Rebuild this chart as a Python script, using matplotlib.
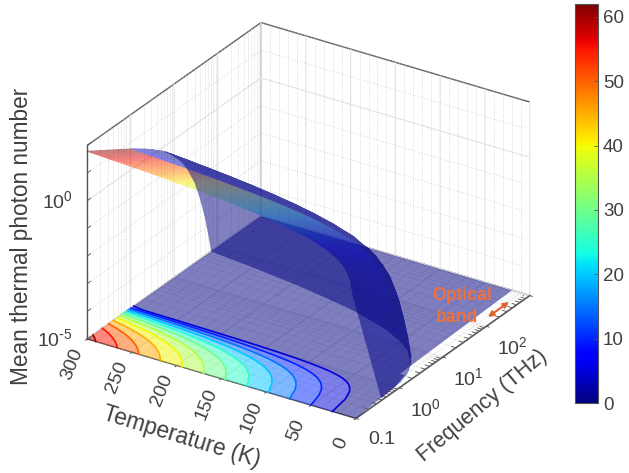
import numpy as np
import matplotlib
matplotlib.use("Agg")
import matplotlib.pyplot as plt
from matplotlib import cm
from matplotlib.colors import Normalize
from matplotlib.patches import FancyArrowPatch
from matplotlib.tri import Triangulation
from mpl_toolkits.mplot3d import proj3d
from mpl_toolkits.mplot3d.art3d import Poly3DCollection
from contourpy import contour_generator

plt.rcParams["font.family"] = ["Liberation Sans", "DejaVu Sans"]
plt.rcParams["mathtext.default"] = "regular"

# surface: log10(frequency / THz) columns, temperature (K) rows, log10(photon number) values
log_freq = [-1, -0.7, -0.35, 0.04, 0.32, 0.49, 0.61, 0.71, 0.79, 0.91, 1.0, 1.18, 1.3, 1.48, 1.6, 1.7, 1.78, 1.85, 1.9]
temperature = [3, 6, 9, 12, 18, 25, 35, 50, 75, 100, 125, 150, 175, 200, 225, 250, 275, 300]
log_photons = [
    [-0.60, -2.63, -5, -5, -5, -5, -5, -5, -5, -5, -5, -5, -5, -5, -5, -5, -5, -5, -5],
    [-0.09, -1.16, -2.42, -3.82, -5, -5, -5, -5, -5, -5, -5, -5, -5, -5, -5, -5, -5, -5, -5],
    [0.15, -0.60, -1.50, -2.55, -4.86, -5, -5, -5, -5, -5, -5, -5, -5, -5, -5, -5, -5, -5, -5],
    [0.31, -0.33, -1.08, -1.91, -3.65, -5, -5, -5, -5, -5, -5, -5, -5, -5, -5, -5, -5, -5, -5],
    [0.52, 0.01, -0.59, -1.25, -2.43, -3.59, -4.75, -5, -5, -5, -5, -5, -5, -5, -5, -5, -5, -5, -5],
    [0.67, 0.23, -0.29, -0.86, -1.74, -2.58, -3.42, -4.25, -5, -5, -5, -5, -5, -5, -5, -5, -5, -5, -5],
    [0.83, 0.43, -0.03, -0.55, -1.23, -1.84, -2.44, -3.04, -3.63, -4.82, -5, -5, -5, -5, -5, -5, -5, -5, -5],
    [1.00, 0.63, 0.20, -0.27, -0.81, -1.27, -1.70, -2.12, -2.54, -3.38, -4.21, -5, -5, -5, -5, -5, -5, -5, -5],
    [1.18, 0.84, 0.44, -0.01, -0.45, -0.80, -1.11, -1.40, -1.69, -2.25, -2.81, -4.20, -5, -5, -5, -5, -5, -5, -5],
    [1.31, 0.98, 0.59, 0.16, -0.24, -0.54, -0.79, -1.02, -1.25, -1.68, -2.10, -3.15, -4.19, -5, -5, -5, -5, -5, -5],
    [1.41, 1.08, 0.70, 0.28, -0.09, -0.36, -0.58, -0.78, -0.97, -1.33, -1.68, -2.52, -3.35, -5, -5, -5, -5, -5, -5],
    [1.49, 1.17, 0.79, 0.38, 0.02, -0.23, -0.43, -0.61, -0.78, -1.09, -1.39, -2.09, -2.79, -4.18, -5, -5, -5, -5, -5],
    [1.56, 1.24, 0.87, 0.45, 0.11, -0.13, -0.32, -0.48, -0.64, -0.92, -1.18, -1.79, -2.39, -3.58, -4.77, -5, -5, -5, -5],
    [1.61, 1.30, 0.93, 0.52, 0.18, -0.04, -0.22, -0.38, -0.52, -0.78, -1.01, -1.56, -2.09, -3.14, -4.18, -5, -5, -5, -5],
    [1.67, 1.36, 0.99, 0.58, 0.25, 0.03, -0.15, -0.29, -0.43, -0.67, -0.88, -1.38, -1.86, -2.79, -3.71, -4.64, -5, -5, -5],
    [1.71, 1.40, 1.03, 0.63, 0.30, 0.09, -0.08, -0.22, -0.35, -0.57, -0.78, -1.23, -1.67, -2.51, -3.34, -4.18, -5, -5, -5],
    [1.75, 1.44, 1.08, 0.67, 0.35, 0.14, -0.02, -0.16, -0.28, -0.49, -0.68, -1.11, -1.51, -2.28, -3.04, -3.80, -4.56, -5, -5],
    [1.79, 1.48, 1.12, 0.72, 0.40, 0.19, 0.03, -0.10, -0.22, -0.42, -0.61, -1.01, -1.38, -2.09, -2.79, -3.48, -4.18, -4.87, -5],
]
# log10(frequency) where each temperature row meets the floor
contact_log_freq = [-0.35, 0.135, 0.33, 0.45, 0.63, 0.78, 0.92, 1.07, 1.25, 1.37, 1.48, 1.55, 1.62, 1.68, 1.73, 1.78,
                    1.82, 1.86]

# floor contours: photon number against temperature at 0.1, 1.1, 2.1 and 1000 THz
floor_freq = [0.1, 1.1, 2.1, 1000]
floor_temp = [0, 5, 10, 15, 20, 25, 30, 35, 40, 45, 50, 55, 60, 65, 70, 75, 80, 85, 90, 95, 100, 105, 110, 115, 120,
              125, 130, 135, 140, 145, 150, 155, 160, 165, 170, 175, 180, 185, 190, 195, 200, 205, 210, 215, 220,
              225, 230, 235, 240, 245, 250, 255, 260, 265, 270, 275, 280, 285, 290, 295, 300]
n_at_01 = [0, 0.62, 1.62, 2.65, 3.69, 4.72, 5.76, 6.80, 7.84, 8.88, 9.92, 10.96, 12.01, 13.05, 14.09, 15.13, 16.17,
           17.21, 18.25, 19.29, 20.34, 21.38, 22.42, 23.46, 24.50, 25.54, 26.58, 27.63, 28.67, 29.71, 30.75, 31.79,
           32.83, 33.88, 34.92, 35.96, 37.00, 38.04, 39.08, 40.13, 41.17, 42.21, 43.25, 44.29, 45.33, 46.38, 47.42,
           48.46, 49.50, 50.54, 51.58, 52.63, 53.67, 54.71, 55.75, 56.79, 57.83, 58.88, 59.92, 60.96, 62.00]
n_at_11 = [0, 0, 0.01, 0.03, 0.08, 0.14, 0.21, 0.28, 0.36, 0.45, 0.53, 0.62, 0.71, 0.80, 0.89, 0.98, 1.07, 1.16, 1.25,
           1.34, 1.44, 1.53, 1.62, 1.72, 1.81, 1.90, 2.00, 2.09, 2.18, 2.28, 2.37, 2.46, 2.55, 2.65, 2.74, 2.83, 2.93,
           3.02, 3.11, 3.21, 3.31, 3.40, 3.50, 3.58, 3.69, 3.78, 3.87, 3.97, 4.07, 4.15, 4.25, 4.35, 4.44, 4.54, 4.62,
           4.73, 4.82, 4.93, 5.02, 5.11, 5.20]
n_at_21 = [0, 0, 0, 0, 0.01, 0.02, 0.04, 0.06, 0.09, 0.12, 0.15, 0.19, 0.23, 0.27, 0.31, 0.35, 0.40, 0.44, 0.48, 0.53,
           0.58, 0.62, 0.67, 0.71, 0.76, 0.81, 0.85, 0.90, 0.95, 0.99, 1.04, 1.09, 1.14, 1.19, 1.23, 1.28, 1.33, 1.38,
           1.42, 1.48, 1.53, 1.57, 1.62, 1.67, 1.72, 1.77, 1.82, 1.86, 1.91, 1.96, 2.01, 2.06, 2.10, 2.16, 2.20, 2.24,
           2.30, 2.35, 2.39, 2.44, 2.50]
n_at_1000 = [0] * len(floor_temp)

contour_levels = [5, 10, 15, 20, 25, 30, 35, 40, 45, 50, 55, 60]
fill_levels = [0] + contour_levels + [62]
temp_ticks = [0, 50, 100, 150, 200, 250, 300]
temp_minor = [t for t in range(10, 300, 10) if t % 50 != 0]
freq_ticks = [-1, 0, 1, 2, 3]
freq_labels = ["0.1", "$10^{0}$", "$10^{1}$", "$10^{2}$"]
freq_minor = [d + np.log10(m) for d in range(-1, 3) for m in range(2, 10)]
z_ticks = [-5, 0]
z_labels = ["$10^{\\text{-}5}$", "$10^{0}$"]
z_minor = [-4, -3, -2, -1, 1, 2]
bar_ticks = [0, 10, 20, 30, 40, 50, 60]

text_col = "#404040"
edge_col = "#555555"
rect = [80.9 / 629, 24.9 / 473, 443.2 / 629, 443.2 / 473]

fig = plt.figure(figsize=(6.29, 4.73), dpi=100)
ax = fig.add_axes(rect, projection="3d", proj_type="ortho")
ax.computed_zorder = False
ax.view_init(elev=27.2, azim=212.9)
ax.set_box_aspect((1, 1, 0.68), zoom=1.1)
ax.patch.set_alpha(0)

norm = Normalize(0, 62)
jet = matplotlib.colormaps["jet"]

# dotted minor grid on the two back walls and the floor
grid_kw = dict(color="#c8c8c8", lw=0.5, ls=":", zorder=0)
for lf in freq_minor:
    ax.plot([lf, lf], [300, 300], [-5, 2], **grid_kw)
    ax.plot([lf, lf], [0, 300], [-5, -5], **grid_kw)
for t in temp_minor:
    ax.plot([3, 3], [t, t], [-5, 2], **grid_kw)
    ax.plot([-1, 3], [t, t], [-5, -5], **grid_kw)
for z in z_minor:
    ax.plot([-1, 3, 3], [300, 300, 0], [z, z, z], **grid_kw)

# floor contours are traced in linear frequency and then put on the log axis
floor_n = np.array([n_at_01, n_at_11, n_at_21, n_at_1000]).T
gen = contour_generator(x=floor_freq, y=floor_temp, z=floor_n)
for lo, hi in zip(fill_levels[:-1], fill_levels[1:]):
    for pts in gen.filled(lo, hi)[0]:
        verts = np.column_stack((np.log10(pts[:, 0]), pts[:, 1], np.full(len(pts), -5.0)))
        ax.add_collection3d(Poly3DCollection([verts], facecolors=jet(norm(lo), alpha=0.5),
                                             edgecolors="none", zorder=1))
for level in contour_levels:
    for line in gen.lines(level):
        ax.plot(np.log10(line[:, 0]), line[:, 1], -5, color=jet(norm(level)), lw=1.2, zorder=2)

# tick marks
tick_kw = dict(color=edge_col, lw=0.6, zorder=5)
for lf in freq_minor:
    ax.plot([lf, lf], [0, 5], [-5, -5], **tick_kw)
for z in z_minor + z_ticks:
    ax.plot([-1, -0.92], [300, 300], [z, z], **tick_kw)

ax.set_xlim(-1, 3, view_margin=0)
ax.set_ylim(0, 300, view_margin=0)
ax.set_zlim(-5, 2, view_margin=0)
ax.set_xticks(freq_ticks)
ax.set_yticks(temp_ticks)
ax.set_zticks(z_ticks)
ax.set_xticklabels([])
ax.set_yticklabels([])
ax.set_zticklabels([])

for axis in (ax.xaxis, ax.yaxis, ax.zaxis):
    axis.pane.set_facecolor("white")
    axis.pane.set_edgecolor(edge_col)
    axis.pane.set_alpha(1)
    axis.pane.set_linewidth(1.0)
    axis.line.set_color(edge_col)
    axis.line.set_linewidth(1.0)
    axis._axinfo["grid"].update(color="#e4e4e4", linewidth=0.9, linestyle="-")
    axis._axinfo["tick"].update(inward_factor=0.12, outward_factor=0.0)
    axis._axinfo["tick"]["linewidth"] = {True: 0.7, False: 0.5}
ax.zaxis._axinfo["tick"].update(inward_factor=0.0, outward_factor=0.0)
ax.tick_params(colors=edge_col)

proj = ax.get_proj()

# mplot3d has no interpolated shading, so the surface goes through tripcolor on an overlay
X, Y = np.meshgrid(np.array(log_freq, dtype=float), temperature)
Z = np.array(log_photons)
for i, contact in enumerate(contact_log_freq):
    X[i, Z[i] == -5] = contact
# the front strip keeps the colour of its 0.1 THz edge, the colour jumps at its far edge,
# so that edge column is doubled: once with the strip colour, once with its own
C = 10.0 ** Z
C = np.insert(C, 4, C[:, 3], axis=1)
C[:, 1:4] = C[:, [0]]
X = np.insert(X, 4, X[:, 3], axis=1)
Y = np.insert(Y, 4, Y[:, 3], axis=1)
Z = np.insert(Z, 4, Z[:, 3], axis=1)
px, py, _ = proj3d.proj_transform(X.ravel(), Y.ravel(), Z.ravel(), proj)
zr = Z.ravel()
nrow, ncol = Z.shape
# the sheet folds over itself, so front and back facing cells become two layers
layers = {True: [], False: []}
for i in range(nrow - 1):
    for j in range(ncol - 1):
        a, b, c, d = i * ncol + j, i * ncol + j + 1, (i + 1) * ncol + j, (i + 1) * ncol + j + 1
        for p, q, r in ((a, b, c), (b, d, c)):
            if max(zr[p], zr[q], zr[r]) > -5:
                area = (px[q] - px[p]) * (py[r] - py[p]) - (px[r] - px[p]) * (py[q] - py[p])
                layers[area > 0].append((p, q, r))


# gouraud triangles overlap by a fraction of a pixel, so each layer is drawn opaque
# and gets its transparency as a whole
def half_alpha(img, dpi):
    img = img.copy()
    img[..., 3] *= 0.5
    return img, 0, 0


ax2 = fig.add_axes(rect)
ax2.axis("off")
for facing in (True, False):
    mesh = ax2.tripcolor(Triangulation(px, py, triangles=layers[facing]), C.ravel(), shading="gouraud",
                         cmap="jet", norm=norm, transform=ax.transData)
    mesh.set_agg_filter(half_alpha)


# tick labels placed next to the projected tick positions
def tick_text(s, x, y, z, dx, dy, **kw):
    qx, qy, _ = proj3d.proj_transform(x, y, z, proj)
    ax.annotate(s, xy=(qx, qy), xycoords="data", xytext=(dx, dy), textcoords="offset pixels",
                color=text_col, annotation_clip=False, **kw)


for t in temp_ticks:
    tick_text(str(t), -1, t, -5, -15, -25, fontsize=14, rotation=68, ha="center", va="center")
for lf, s in zip(freq_ticks, freq_labels):
    tick_text(s, lf, 0, -5, 26, -21, fontsize=14, ha="center", va="center")
for z, s in zip(z_ticks, z_labels):
    tick_text(s, -1, 300, z, -14, 0, fontsize=14, ha="right", va="center")

fig.text(182 / 629, 1 - 437 / 473, "Temperature (K)", fontsize=16.3, rotation=-17,
         color=text_col, ha="center", va="center")
fig.text(482 / 629, 1 - 406 / 473, "Frequency (THz)", fontsize=15.6, rotation=40,
         color=text_col, ha="center", va="center")
fig.text(22 / 629, 1 - 236 / 473, "Mean thermal photon number", fontsize=16.3, rotation=90,
         color=text_col, ha="center", va="center")

fig.text(462 / 629, 1 - 296 / 473, "Optical", fontsize=12.7, fontweight="bold",
         color="#F0703A", ha="center", va="center")
fig.text(457 / 629, 1 - 318 / 473, "band", fontsize=12.7, fontweight="bold",
         color="#F0703A", ha="center", va="center")
fig.add_artist(FancyArrowPatch(
    (488 / 629, 1 - 317 / 473), (509 / 629, 1 - 302 / 473), transform=fig.transFigure,
    arrowstyle="<|-|>", mutation_scale=8, color="#E0642D", lw=1.5, shrinkA=0, shrinkB=0))

cax = fig.add_axes([575 / 629, 70 / 473, 23 / 629, 399 / 473])
cb = fig.colorbar(cm.ScalarMappable(norm=norm, cmap="jet"), cax=cax)
cb.set_ticks(bar_ticks)
cb.ax.tick_params(labelsize=13.5, labelcolor=text_col, color=edge_col, direction="in", length=3, width=0.6)
cb.outline.set_edgecolor(edge_col)
cb.outline.set_linewidth(0.8)

fig.savefig("out.png", dpi=100)
